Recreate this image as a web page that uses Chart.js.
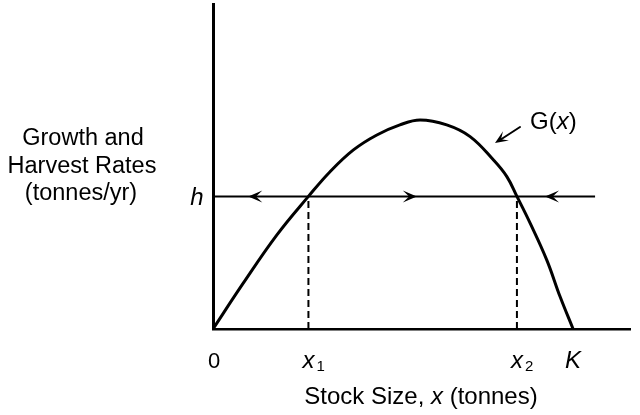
<!DOCTYPE html>
<html>
<head>
<meta charset="utf-8">
<script src="https://cdn.jsdelivr.net/npm/chart.js@4.4.1/dist/chart.umd.min.js"></script>
<style>
  html, body { margin: 0; padding: 0; background: #fff; }
</style>
</head>
<body>
<canvas id="graph" width="640" height="415"></canvas>
<script>
// stock size (x, K = 100) and growth G(x)
const stockX  = [0, 8.4, 17.7, 26.5, 32.5, 39, 45.5, 51.9, 57.5, 64.9, 71.4, 77.9, 81.6, 84.4, 88.1, 92.7, 96.4, 100]
const growthY = [0, 14.1, 28.9, 40.8, 48.4, 55.1, 59.7, 62.8, 64.3, 62.8, 59.2, 52, 46.9, 40.8, 32.5, 21.2, 9.9, 0]

// constant harvest h and where it meets the curve
const harvest = 40.8
const harvestSpan = [0, 106.1]
const equilibria = [26.5, 84.4]

// direction arrows along the harvest line
const arrowTips = [9.8, 56.6, 92.2]
const arrowDirs = [-1, 1, -1]

const tickValues = [0, 26.5, 84.4, 100]
const tickLabels = ["0", "x₁", "x₂", "K"]

const FONT = '"Liberation Sans", Arial, sans-serif'

const canv = /**@type {HTMLCanvasElement}*/(document.getElementById("graph"))
const ctx = canv.getContext("2d")

const subs = { "₁": "1", "₂": "2" }

// notched arrowhead with its tip at (x, y), pointing along dir
function arrowHead(c, x, y, dir, len, half) {
    c.beginPath()
    c.moveTo(x, y)
    c.lineTo(x - dir * len, y - half)
    c.lineTo(x - dir * len * 0.55, y)
    c.lineTo(x - dir * len, y + half)
    c.closePath()
    c.fill()
}

function mixedText(c, parts, x, y, size) {
    parts.forEach(p => {
        c.font = p[1] + size + "px " + FONT
        c.fillText(p[0], x, y)
        x += c.measureText(p[0]).width
    })
}

function mixedWidth(c, parts, size) {
    let w = 0
    parts.forEach(p => { c.font = p[1] + size + "px " + FONT; w += c.measureText(p[0]).width })
    return w
}

const annotations = {
    id: "annotations",
    afterDatasetsDraw(chart) {
        const c = chart.ctx
        const xs = chart.scales.x
        const ys = chart.scales.y
        c.save()
        c.strokeStyle = "#000"
        c.fillStyle = "#000"
        c.lineWidth = 2
        c.lineCap = "round"

        // arrows on h
        const hy = ys.getPixelForValue(harvest)
        arrowTips.forEach((v, i) => {
            arrowHead(c, xs.getPixelForValue(v), hy, arrowDirs[i], 14, 6)
        })

        // pointer from the curve label
        c.beginPath()
        c.moveTo(520, 127)
        c.lineTo(500, 140)
        c.stroke()
        c.save()
        c.translate(495, 143)
        c.rotate(Math.atan2(16, -25))
        arrowHead(c, 0, 0, 1, 13, 5.5)
        c.restore()

        c.textBaseline = "alphabetic"
        c.textAlign = "left"

        // tick labels along the stock axis
        const ty = 368
        tickValues.forEach((v, i) => {
            const px = xs.getPixelForValue(v)
            const lab = tickLabels[i]
            if (/^\d+$/.test(lab)) {
                c.font = "22px " + FONT
                c.fillText(lab, px + 1 - c.measureText(lab).width / 2, ty)
                return
            }
            const base = lab[0]
            const sub = subs[lab[1]] || ""
            c.font = "italic 24px " + FONT
            const bw = c.measureText(base).width
            const left = px - bw / 2
            c.fillText(base, left, ty)
            if (sub) {
                c.font = "15px " + FONT
                c.fillText(sub, left + bw + 2, ty + 3)
            }
        })

        // h on the rate axis
        c.font = "italic 24px " + FONT
        c.textAlign = "center"
        c.fillText("h", 197, hy + 9)

        // rate axis title
        c.font = "23.5px " + FONT
        c.fillText("Growth and", 83, 145)
        c.fillText("Harvest Rates", 82, 173)
        c.fillText("(tonnes/yr)", 81, 200)

        // stock axis title
        c.textAlign = "left"
        const title = [["Stock Size, ", ""], ["x", "italic "], [" (tonnes)", ""]]
        mixedText(c, title, 421 - mixedWidth(c, title, 24) / 2, 404, 24)

        // curve label
        mixedText(c, [["G(", ""], ["x", "italic "], [")", ""]], 530, 129, 24)
        c.restore()
    }
}

new Chart(ctx, {
    type: "line",
    data: {
        datasets: [
            {
                data: stockX.map((x, i) => ({ x: x, y: growthY[i] })),
                borderColor: "#000",
                borderWidth: 3,
                pointRadius: 0,
                tension: 0.4
            },
            {
                data: harvestSpan.map(x => ({ x: x, y: harvest })),
                borderColor: "#000",
                borderWidth: 2,
                pointRadius: 0
            },
            ...equilibria.map(x => ({
                data: [{ x: x, y: 0 }, { x: x, y: harvest }],
                borderColor: "#000",
                borderWidth: 2,
                borderDash: [7, 4],
                pointRadius: 0
            }))
        ]
    },
    options: {
        responsive: false,
        animation: false,
        layout: { padding: { left: 205, top: 4, right: 10, bottom: 78 } },
        plugins: { legend: { display: false }, tooltip: { enabled: false } },
        scales: {
            x: {
                type: "linear",
                min: 0,
                max: 115.8,
                ticks: { display: false },
                grid: { display: false },
                border: { color: "#000", width: 2.5 }
            },
            y: {
                min: 0,
                max: 100,
                ticks: { display: false },
                grid: { display: false },
                border: { color: "#000", width: 3 }
            }
        }
    },
    plugins: [annotations]
})
</script>
</body>
</html>
